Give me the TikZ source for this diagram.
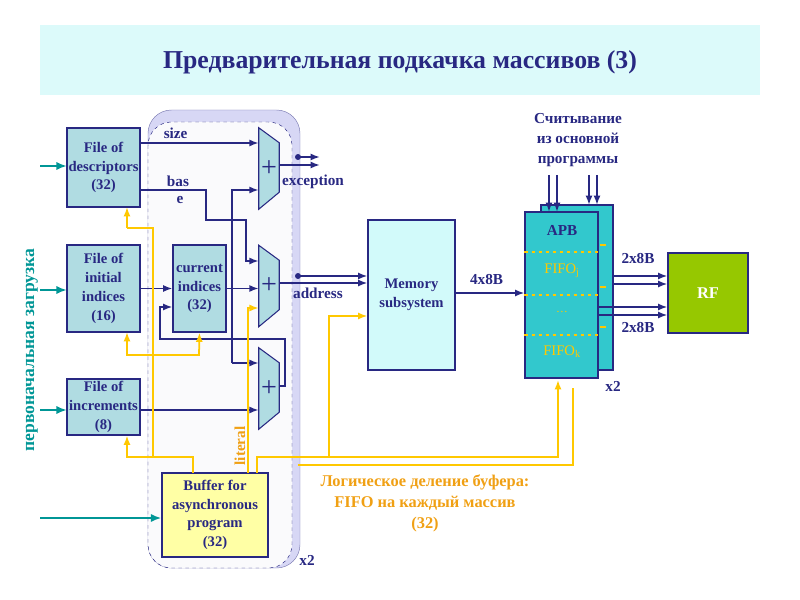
\documentclass[tikz,border=0pt]{standalone}
\usepackage{fontspec}
\setmainfont{Liberation Serif}
\usetikzlibrary{arrows.meta,positioning}
\definecolor{navy}{RGB}{40,40,130}
\definecolor{boxblue}{RGB}{176,220,226}
\definecolor{sea}{RGB}{0,150,150}
\definecolor{gold}{RGB}{255,200,0}
\definecolor{amber}{RGB}{240,160,20}
\definecolor{apbcyan}{RGB}{50,200,205}
\definecolor{rfgreen}{RGB}{150,200,0}
\tikzset{
  unit/.style={draw=navy,line width=0.9pt,fill=boxblue,text=navy,font=\bfseries\fontsize{12.5}{16}\selectfont,align=center,inner sep=0pt},
  bus/.style={navy,line width=1.5pt,-{Latex[length=8pt,width=6pt]}},
  ctl/.style={gold,line width=1.5pt,-{Latex[length=8pt,width=6pt]}},
  load/.style={sea,line width=2.5pt,-{Latex[length=9pt,width=7pt]}},
  lbl/.style={navy,font=\bfseries\fontsize{13}{15}\selectfont},
  adder/.style={minimum width=20*0.3mm,minimum height=81*0.3mm,inner sep=0pt,text=navy,font=\fontsize{24}{24}\selectfont}
}
\newcommand{\addershape}[1]{%
  \draw[navy,line width=0.9pt,fill=boxblue] (#1.north west) -- ([yshift=-15*0.3mm]#1.north east)
    -- ([yshift=17*0.3mm]#1.south east) -- (#1.south west) -- cycle;}
\begin{document}
\begin{tikzpicture}[x=0.3mm,y=-0.3mm]
\useasboundingbox (0,0) rectangle (800,600);
% title band
\fill[fill={rgb,255:red,220;green,250;blue,250}] (40,25) rectangle (760,95);
\node (title) at (400,62) {\color{navy}\bfseries\fontsize{22}{26}\selectfont Предварительная подкачка массивов (3)};
% duplicated region
\draw[navy!60,fill={rgb,255:red,215;green,215;blue,245},rounded corners=20] (148,110) rectangle (300,568);
\draw[navy,dashed,fill={rgb,255:red,250;green,250;blue,252},rounded corners=20] (148,122) rectangle (292,568);
\node[lbl] (x2a) at (307,560) {x2};
% units
\node[unit,minimum width=73*0.3mm,minimum height=79*0.3mm] (desc) at (103.5,167.5) {File of\\descriptors\\(32)};
\node[unit,minimum width=73*0.3mm,minimum height=87*0.3mm] (init) at (103.5,288.5) {File of\\initial\\indices\\(16)};
\node[unit,minimum width=73*0.3mm,minimum height=56*0.3mm] (incr) at (103.5,407) {File of\\increments\\(8)};
\node[unit,minimum width=53*0.3mm,minimum height=87*0.3mm] (cur) at (199.5,288.5) {current\\indices\\(32)};
\node[unit,fill={rgb,255:red,255;green,255;blue,165},minimum width=106*0.3mm,minimum height=84*0.3mm] (buf) at (215,515) {Buffer for\\asynchronous\\program\\(32)};
\node[unit,fill={rgb,255:red,210;green,250;blue,250},minimum width=87*0.3mm,minimum height=150*0.3mm] (mem) at (411.5,295) {Memory\\subsystem};
\node[unit,fill=apbcyan,minimum width=72*0.3mm,minimum height=165*0.3mm] (apbB) at (577,287.5) {};
\node[unit,fill=apbcyan,minimum width=73*0.3mm,minimum height=166*0.3mm] (apb) at (561.5,295) {};
\node[unit,fill=rfgreen,text=white,minimum width=80*0.3mm,minimum height=80*0.3mm,font=\bfseries\fontsize{14}{16}\selectfont] (rf) at (708,293) {RF};
% APB contents
\node[lbl] (apbt) at (562,230) {APB};
\foreach \y in {252,295,335} \draw[gold,dashed,line width=1.5pt] (apb.west |- 0,\y) -- (apb.east |- 0,\y);
\foreach \y in {245,287,327} \draw[gold,line width=1.5pt] (600,\y) -- (606,\y);
\node[gold,font=\fontsize{12.5}{14}\selectfont] (fj) at (562,271) {FIFO\textsubscript{j}};
\node[gold] (dots) at (562,312) {\dots};
\node[gold,font=\fontsize{12.5}{14}\selectfont] (fk) at (562,352) {FIFO\textsubscript{k}};
\node[lbl] (x2b) at (613,386) {x2};
% adders
\node[adder] (add1) at (269,168.5) {};
\node[adder] (add2) at (269,286) {};
\node[adder] (add3) at (269,388.5) {};
\foreach \a in {add1,add2,add3} {\addershape{\a} \node[adder,minimum width=0pt,minimum height=0pt] at (\a) {+};}
% navy buses
\coordinate (sz) at (140,143);
\draw[bus] (sz) -- (add1.west |- sz) node[lbl,pos=0.3,above] {size};
\draw[bus] (desc.east |- 0,190) -- (206,190) -- (206,220) -- (246,220) -- (246,261) -- (add2.west |- 0,261);
\node[lbl] (bas) at (178,181) {bas};
\node[lbl] (bas2) at (180,200) {e};
\draw[bus] (232,363) -- (232,190) -- (add1.west |- 0,190);
\draw[bus] (232,363) -- (add3.west |- 0,363);
\draw[bus] (init.east |- cur) -- (cur);
\draw[bus] (cur.east) -- (add2.west |- cur);
\draw[bus] (add3.east |- 0,386) -- (285,386) -- (285,339) -- (160,339) -- (160,307) -- (cur.west |- 0,307);
\draw[bus] (incr.east |- 0,410) -- (add3.west |- 0,410);
\draw[bus] (add1.east |- 0,165) -- (320,165);
\draw[bus] (298,157) -- (320,157);
\fill[navy] (298,157) circle (3);
\node[lbl,anchor=west] (exc) at (278,182) {exception};
\draw[bus] (add2.east |- 0,283) -- (mem.west |- 0,283);
\draw[bus] (298,276) -- (mem.west |- 0,276);
\fill[navy] (298,276) circle (3);
\node[lbl,anchor=west] (adr) at (289,293) {address};
\draw[bus] (mem.east |- 0,293) -- (apb.west |- 0,293) node[lbl,pos=0.45,above=3pt] {4x8B};
\foreach \y in {276,284} \draw[bus] (apbB.east |- 0,\y) -- (rf.west |- 0,\y);
\foreach \y in {307,315} \draw[bus] (apb.east |- 0,\y) -- (rf.west |- 0,\y);
\node[lbl] (w1) at (638,259) {2x8B};
\node[lbl] (w2) at (638,328) {2x8B};
\node[lbl,align=center,font=\bfseries\fontsize{13}{17}\selectfont] (read) at (578,140) {Считывание\\из основной\\программы};
\foreach \x in {549,557} \draw[bus] (\x,175) -- (\x,212);
\foreach \x in {589,597} \draw[bus] (\x,175) -- (\x,205);
% initial load
\foreach \y in {166,290,410} \draw[load] (40,\y) -- (67,\y);
\draw[load] (40,518) -- (buf.west |- 0,518);
\node[sea,rotate=90,font=\bfseries\fontsize{15}{17}\selectfont] (pl) at (32,350) {первоначальная загрузка};
% yellow control
\draw[ctl] (193,473) -- (193,457) -- (127,457) -- (incr.south -| 127,0);
\draw[gold,line width=1.5pt] (153,457) -- (153,228) -- (127,228);
\draw[ctl] (127,228) -- (127,207);
\draw[ctl] (153,355) -- (127,355) -- (127,332);
\draw[ctl] (153,355) -- (199,355) -- (cur.south);
\draw[ctl] (248,473) -- (248,308) -- (add2.west |- 0,308);
\node[amber,rotate=90,font=\bfseries\fontsize{13}{15}\selectfont] (lit) at (240,446) {literal};
\draw[ctl] (257,473) -- (257,457) -- (558,457) -- (558,380);
\draw[ctl] (329,457) -- (329,316) -- (mem.west |- 0,316);
\draw[gold,line width=1.5pt] (298,465) -- (573,465) -- (573,388);
\node[amber,align=center,font=\bfseries\fontsize{14}{18}\selectfont] (note) at (425,503) {Логическое деление буфера:\\FIFO на каждый массив\\(32)};
\end{tikzpicture}
\end{document}
